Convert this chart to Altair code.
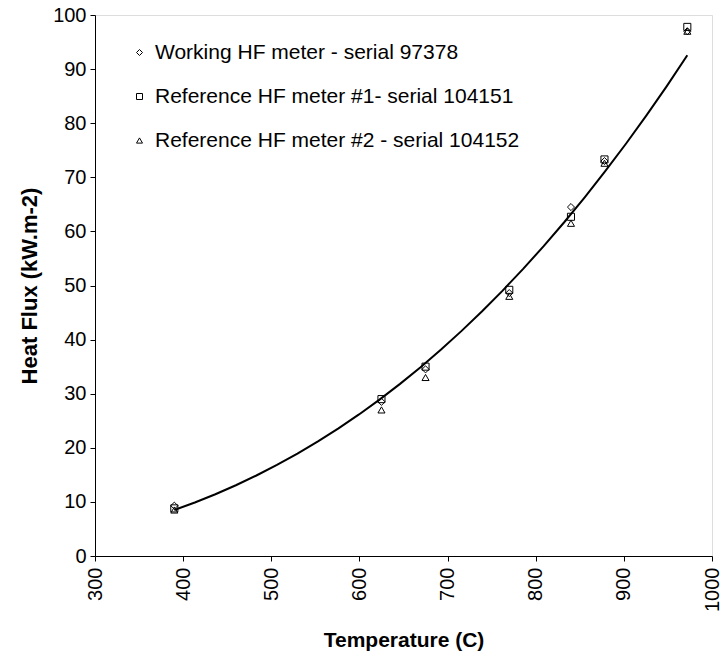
import altair as alt
import pandas as pd

temperature = [390, 625, 675, 770, 840, 878, 972]
working_97378 = [9.3, 28.5, 34.5, 48.6, 64.5, 73.0, 97.0]
ref1_104151 = [8.8, 29.0, 35.0, 49.2, 62.7, 73.3, 97.8]
ref2_104152 = [8.5, 27.0, 33.0, 48.0, 61.5, 72.6, 97.0]

series_names = [
    "Working HF meter - serial 97378",
    "Reference HF meter #1- serial 104151",
    "Reference HF meter #2 - serial 104152",
]
series_values = [working_97378, ref1_104151, ref2_104152]
shapes = ["diamond", "square", "triangle-up"]

rows = []
for name, vals in zip(series_names, series_values):
    for t, v in zip(temperature, vals):
        rows.append({"T": t, "F": v, "series": name})
df = pd.DataFrame(rows)

FONT = "Liberation Sans"

x_scale = alt.Scale(domain=[300, 1000], nice=False)
y_scale = alt.Scale(domain=[0, 100], nice=False)

x_axis = alt.Axis(
    title="Temperature (C)", values=list(range(300, 1001, 100)), format="d",
    labelAngle=270, labelAlign="right", labelBaseline="middle",
    labelFontSize=20, labelFont=FONT, labelColor="black", labelPadding=6,
    titleFont=FONT, titleFontSize=21, titleFontWeight="bold", titleColor="black",
    titlePadding=18, grid=False, domainColor="black", tickColor="black",
    tickSize=5, labelFlush=False, labelOverlap=False, labelBound=False,
)
y_axis = alt.Axis(
    title="Heat Flux (kW.m-2)", values=list(range(0, 101, 10)), format="d",
    labelFontSize=20, labelFont=FONT, labelColor="black", labelPadding=4,
    titleFont=FONT, titleFontSize=22, titleFontWeight="bold", titleColor="black",
    titlePadding=11, grid=False, domainColor="black", tickColor="black",
    tickSize=5, labelFlush=False, labelOverlap=False,
)

points = alt.Chart(df).mark_point(filled=False, color="black", strokeWidth=1, size=50, opacity=1).encode(
    x=alt.X("T:Q", scale=x_scale, axis=x_axis),
    y=alt.Y("F:Q", scale=y_scale, axis=y_axis),
    shape=alt.Shape(
        "series:N",
        scale=alt.Scale(domain=series_names, range=shapes),
        legend=alt.Legend(
            title=None, orient="none", legendX=34, legendY=27,
            labelFont=FONT, labelFontSize=21, labelColor="black", labelLimit=600,
            symbolStrokeColor="black", symbolFillColor="white", symbolSize=36,
            symbolStrokeWidth=1, rowPadding=22, labelOffset=5,
        ),
    ),
)

trend = alt.Chart(df).transform_regression(
    "T", "F", method="pow", extent=[390, 972]
).mark_line(color="black", strokeWidth=2).encode(
    x=alt.X("T:Q", scale=x_scale),
    y=alt.Y("F:Q", scale=y_scale),
)

chart = alt.layer(trend, points).properties(
    width=617, height=541,
    autosize=alt.AutoSizeParams(type="none"),
    padding={"left": 95, "top": 15, "right": 8, "bottom": 101},
).configure_view(stroke="black", strokeWidth=1).configure(background="white")

chart.save("out.html", embed_options={"renderer": "svg", "actions": False})
